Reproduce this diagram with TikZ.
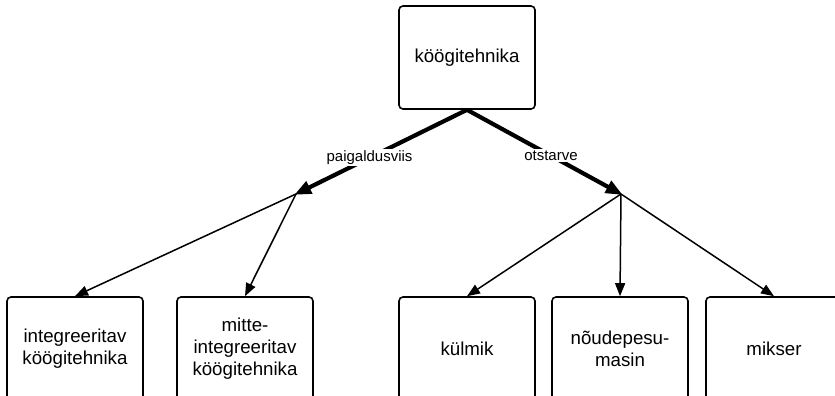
\documentclass[tikz,border=0pt]{standalone}
\usepackage{fontspec}
\setmainfont{Liberation Sans}
\usetikzlibrary{arrows.meta}
\begin{document}
\begin{tikzpicture}[x=1pt,y=-1pt,
  box/.style={draw=black, line width=1.6pt, rounded corners=4pt, fill=white,
    minimum width=136pt, minimum height=103pt, inner sep=0pt,
    align=center, font=\fontsize{18.7}{22}\selectfont},
  thin/.style={draw=black, line width=1.5pt, -{Triangle[length=13pt,width=10pt]}},
  thick/.style={draw=black, line width=4.2pt, -{Triangle[length=17pt,width=13pt]}, shorten >=-2pt},
  lbl/.style={fill=white, inner sep=1.5pt, font=\fontsize{15}{17}\selectfont}]
\useasboundingbox (0,0) rectangle (835,396);
\clip (0,0) rectangle (835,396);
\fill[white] (0,0) rectangle (835,396);
\node[box] (top) at (467,57.5) {köögitehnika};
\node[box] (b1) at (75,348.5) {integreeritav\\köögitehnika};
\node[box] (b2) at (245,348.5) {mitte-\\integreeritav\\köögitehnika};
\node[box] (b3) at (467,348.5) {külmik};
\node[box] (b4) at (620,348.5) {nõudepesu-\\masin};
\node[box] (b5) at (774,348.5) {mikser};
\coordinate (j1) at (296,194);
\coordinate (j2) at (621,194);
\draw[thin] (j1) -- (b1.north);
\draw[thin] (j1) -- (b2.north);
\draw[thin] (j2) -- (b3.north);
\draw[thin] (j2) -- (b4.north);
\draw[thin] (j2) -- (b5.north);
\draw[thick] (top.south) -- (j1) node[lbl, pos=0.57] {paigaldusviis};
\draw[thick] (top.south) -- (j2) node[lbl, pos=0.545] {otstarve};
\end{tikzpicture}
\end{document}
